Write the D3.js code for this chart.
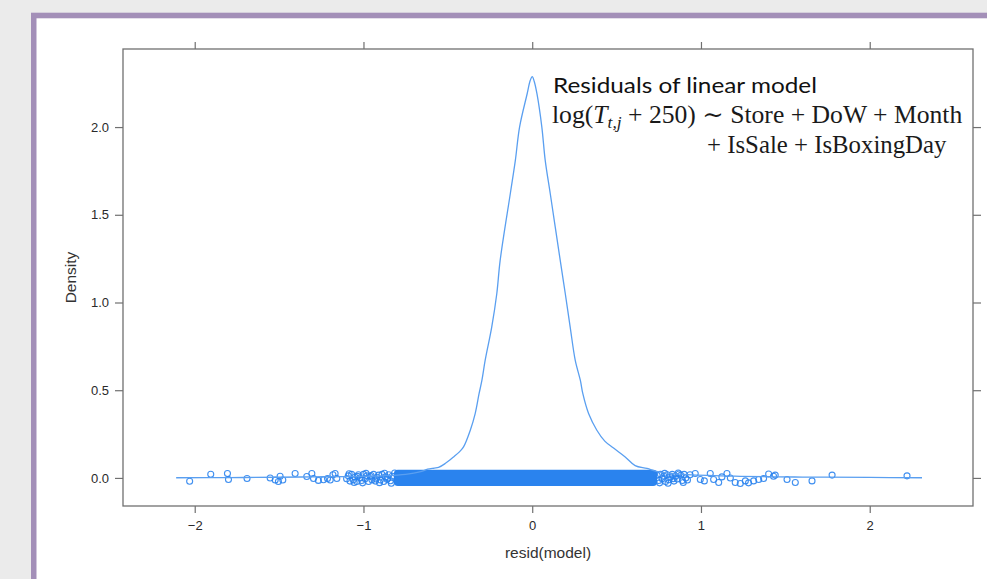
<!DOCTYPE html>
<html><head><meta charset="utf-8">
<script src="https://cdn.jsdelivr.net/npm/d3@7"></script>
<style>html,body{margin:0;padding:0;background:#ebebeb;}svg{display:block;}</style>
</head><body>
<svg id="chart" width="987" height="579"></svg>
<script>
// ---- data ----
const densityX = [-2.11,-1.8,-1.5,-1.3,-1.1,-0.9,-0.75,-0.66,-0.62,-0.58,-0.555,-0.516,-0.466,-0.43,-0.407,-0.367,-0.338,-0.315,-0.298,-0.279,-0.24,-0.21,-0.19,-0.13,-0.10,-0.075,-0.03,-0.012,0.0,0.012,0.028,0.057,0.077,0.107,0.166,0.196,0.225,0.255,0.285,0.30,0.334,0.383,0.43,0.482,0.551,0.61,0.68,0.75,0.9,1.2,1.6,2.0,2.31];
const densityY = [0.001,0.002,0.004,0.006,0.008,0.012,0.02,0.036,0.05,0.056,0.06,0.082,0.12,0.15,0.177,0.272,0.367,0.48,0.557,0.67,0.86,1.05,1.24,1.62,1.81,2.0,2.19,2.265,2.287,2.26,2.19,2.0,1.81,1.62,1.24,1.05,0.86,0.67,0.557,0.48,0.367,0.272,0.21,0.17,0.12,0.07,0.054,0.035,0.02,0.01,0.005,0.003,0.001];
// residual points: x value and its display jitter (density units)
const pointX = [-2.03,-1.905,-1.806,-1.80,-1.69,-1.553,-1.523,-1.504,-1.478,-1.494,-1.405,-1.336,-1.306,-1.296,-1.267,-1.237,-1.213,-1.181,-1.168,-1.197,-1.158,
  -1.10,-1.09,-1.08,-1.07,-1.06,-1.05,-1.04,-1.03,-1.02,-1.01,-1.0,-0.99,-0.98,-0.97,-0.96,-0.95,-0.94,-0.93,-0.92,-0.91,-0.90,-0.89,-0.88,-0.87,-0.86,-0.85,-0.84,-0.83,
  -1.085,-1.055,-1.035,-1.005,-0.985,-0.955,-0.925,-0.905,-0.875,-0.855,-0.835,-0.815,
  0.74,0.75,0.76,0.77,0.78,0.79,0.80,0.81,0.82,0.83,0.84,0.85,0.86,0.87,0.88,0.89,0.90,0.91,0.92,0.935,
  0.755,0.785,0.805,0.835,0.865,0.895,
  0.966,0.996,1.02,1.055,1.075,1.105,1.124,1.154,1.174,1.203,1.233,1.263,1.282,1.312,1.342,1.371,1.401,1.43,1.44,1.51,1.559,1.658,1.777,2.221];
const pointJitter = [-0.019,0.021,0.025,-0.009,-0.003,0.0,-0.012,-0.02,-0.012,0.01,0.025,0.008,0.025,-0.003,-0.014,-0.01,-0.003,0.018,0.025,-0.012,-0.003,
  -0.005,0.012,-0.018,0.02,-0.01,0.005,-0.02,0.018,0.0,-0.015,0.02,-0.005,0.012,-0.02,0.008,-0.01,0.02,-0.018,0.004,0.016,-0.012,0.02,-0.02,0.006,-0.008,0.018,-0.016,0.01,
  0.024,-0.026,0.009,-0.028,0.026,0.014,-0.006,-0.027,0.027,0.0,-0.03,0.028,
  0.015,-0.015,0.02,-0.005,0.01,-0.02,0.018,-0.01,0.005,0.02,-0.018,0.01,-0.006,0.022,0.015,-0.015,0.02,0.0,-0.012,0.018,
  -0.028,0.026,-0.03,-0.004,0.028,-0.026,
  0.025,-0.009,-0.017,0.025,-0.009,-0.026,0.006,0.025,0.0,-0.026,-0.032,-0.017,-0.028,-0.017,-0.009,-0.003,0.022,0.01,0.016,-0.009,-0.026,-0.017,0.016,0.012];
// range where residuals overlap into a solid band, and its half height (density units)
const denseBand = [-0.82, 0.74];
const bandHalf = 0.046;
const xTicks = [-2,-1,0,1,2];
const yTicks = [0,0.5,1.0,1.5,2.0];
const xDomain = [-2.425, 2.612];
const yDomain = [-0.16, 2.445];
const titleText = "Residuals of linear model";
const xLabel = "resid(model)";
const yLabel = "Density";

// ---- drawing ----
const svg = d3.select("#chart");
const W = 987, H = 579;
const P = {l:123, r:973, t:49, b:506};
const blue = "#2a83ee";

svg.append("rect").attr("width",W).attr("height",H).attr("fill","#ebebeb");
svg.append("rect").attr("x",31).attr("y",12.7).attr("width",W).attr("height",H).attr("fill","#a38fb8");
svg.append("rect").attr("x",36.5).attr("y",18.3).attr("width",W).attr("height",H).attr("fill","#ffffff");

const x = d3.scaleLinear().domain(xDomain).range([P.l,P.r]);
const y = d3.scaleLinear().domain(yDomain).range([P.b,P.t]);

const fmtX = d3.format("d"), fmtY = d3.format(".1f");
function styleAxis(g){
  g.select(".domain").remove();
  g.selectAll(".tick line").attr("stroke","#707070").attr("stroke-width",1.2);
  g.selectAll(".tick text").attr("fill","#2a2a2a").style("font-family","'Liberation Sans', Arial, sans-serif").style("font-size","13px");
}
svg.append("g").attr("transform",`translate(0,${P.b})`)
  .call(d3.axisBottom(x).tickValues(xTicks).tickFormat(fmtX).tickSize(7).tickPadding(8)).call(styleAxis);
svg.append("g").attr("transform",`translate(0,${P.t})`)
  .call(d3.axisTop(x).tickValues(xTicks).tickFormat("").tickSize(7)).call(styleAxis);
svg.append("g").attr("transform",`translate(${P.l},0)`)
  .call(d3.axisLeft(y).tickValues(yTicks).tickFormat(fmtY).tickSize(8).tickPadding(6)).call(styleAxis);
svg.append("g").attr("transform",`translate(${P.r},0)`)
  .call(d3.axisRight(y).tickValues(yTicks).tickFormat("").tickSize(8)).call(styleAxis);

svg.append("rect").attr("x",P.l).attr("y",P.t).attr("width",P.r-P.l).attr("height",P.b-P.t)
  .attr("fill","none").attr("stroke","#707070").attr("stroke-width",1.3);

// dense band of overlapping circles
svg.append("rect")
  .attr("x",x(denseBand[0])).attr("width",x(denseBand[1])-x(denseBand[0]))
  .attr("y",y(bandHalf)).attr("height",y(-bandHalf)-y(bandHalf))
  .attr("rx",4).attr("fill",blue);

const pts = pointX.map((v,i)=>({x:v,j:pointJitter[i]}));
svg.append("g").selectAll("circle").data(pts).join("circle")
  .attr("cx",d=>x(d.x)).attr("cy",d=>y(d.j)).attr("r",3)
  .attr("fill","none").attr("stroke",blue).attr("stroke-width",1.1).attr("stroke-opacity",0.9);

const dens = densityX.map((v,i)=>({x:v,y:densityY[i]}));
svg.append("path").datum(dens)
  .attr("d",d3.line().x(d=>x(d.x)).y(d=>y(d.y)).curve(d3.curveCatmullRom.alpha(0.5)))
  .attr("fill","none").attr("stroke","#5a9ff0").attr("stroke-width",1.3);

// axis titles
svg.append("text").attr("x",(P.l+P.r)/2).attr("y",558).attr("text-anchor","middle")
  .style("font-family","'Liberation Sans', Arial, sans-serif").style("font-size","15.5px").attr("fill","#333")
  .text(xLabel);
svg.append("text").attr("transform",`translate(76,${(P.t+P.b)/2}) rotate(-90)`).attr("text-anchor","middle")
  .style("font-family","'Liberation Sans', Arial, sans-serif").style("font-size","15.5px").attr("fill","#333")
  .text(yLabel);

// annotation text, fitted horizontally to width
function fit(sel, x0, y0, w){
  const bw = sel.node().getBBox().width;
  sel.attr("transform",`translate(${x0},${y0}) scale(${w/bw},1)`);
}
const t1 = svg.append("text").attr("x",0).attr("y",0)
  .style("font-family","Lato, 'Open Sans', sans-serif").style("font-size","21px").attr("fill","#111")
  .text(titleText);
fit(t1, 553, 92.5, 264);

const serif = "'Liberation Serif', 'DejaVu Serif', serif";
const t2 = svg.append("text").attr("x",0).attr("y",0)
  .style("font-family",serif).style("font-size","25px").attr("fill","#1a1a1a");
t2.append("tspan").text("log(");
t2.append("tspan").style("font-style","italic").text("T");
t2.append("tspan").style("font-style","italic").style("font-size","17px").attr("dy",5).text("t,j");
t2.append("tspan").attr("dy",-5).text(" + 250) \u223C Store + DoW + Month");
fit(t2, 552, 123.3, 411);

const t3 = svg.append("text").attr("x",0).attr("y",0)
  .style("font-family",serif).style("font-size","25px").attr("fill","#1a1a1a")
  .text("+ IsSale + IsBoxingDay");
fit(t3, 707, 153, 240);
</script>
</body></html>
